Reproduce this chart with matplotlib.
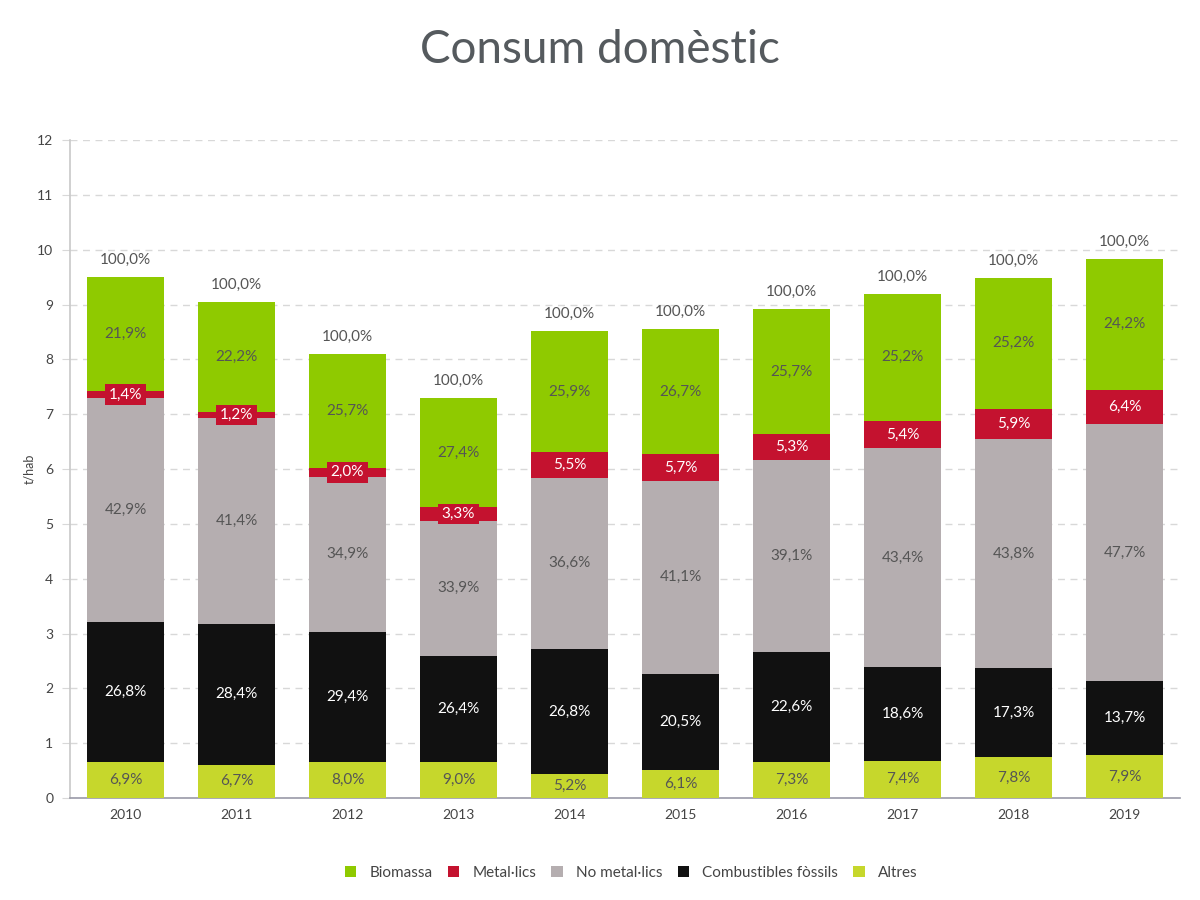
import matplotlib
matplotlib.use("Agg")
import matplotlib.pyplot as plt
import numpy as np

plt.rcParams['font.family'] = ['Lato', 'DejaVu Sans']

years = ['2010', '2011', '2012', '2013', '2014', '2015', '2016', '2017', '2018', '2019']

# values in t/hab
altres = [0.66, 0.61, 0.65, 0.66, 0.44, 0.52, 0.65, 0.68, 0.74, 0.78]
fossils = [2.55, 2.57, 2.38, 1.93, 2.28, 1.75, 2.02, 1.71, 1.64, 1.35]
no_metallics = [4.08, 3.75, 2.83, 2.47, 3.12, 3.51, 3.49, 3.99, 4.16, 4.69]
metallics = [0.13, 0.11, 0.16, 0.24, 0.47, 0.49, 0.47, 0.50, 0.56, 0.63]
biomassa = [2.08, 2.01, 2.08, 2.00, 2.21, 2.28, 2.29, 2.32, 2.39, 2.38]

# percentage labels
altres_lbl = ['6,9%', '6,7%', '8,0%', '9,0%', '5,2%', '6,1%', '7,3%', '7,4%', '7,8%', '7,9%']
fossils_lbl = ['26,8%', '28,4%', '29,4%', '26,4%', '26,8%', '20,5%', '22,6%', '18,6%', '17,3%', '13,7%']
no_met_lbl = ['42,9%', '41,4%', '34,9%', '33,9%', '36,6%', '41,1%', '39,1%', '43,4%', '43,8%', '47,7%']
met_lbl = ['1,4%', '1,2%', '2,0%', '3,3%', '5,5%', '5,7%', '5,3%', '5,4%', '5,9%', '6,4%']
bio_lbl = ['21,9%', '22,2%', '25,7%', '27,4%', '25,9%', '26,7%', '25,7%', '25,2%', '25,2%', '24,2%']
total_lbl = ['100,0%'] * 10

series = [
    ('Altres', altres, altres_lbl, '#c6d72c', '#555555', False),
    ('Combustibles fòssils', fossils, fossils_lbl, '#111111', 'white', False),
    ('No metal·lics', no_metallics, no_met_lbl, '#b5aeb0', '#555555', False),
    ('Metal·lics', metallics, met_lbl, '#c4122f', 'white', True),
    ('Biomassa', biomassa, bio_lbl, '#8fca00', '#555555', False),
]

fig = plt.figure(figsize=(12, 9), dpi=100)
ax = fig.add_axes([0.0583, 0.1133, 0.925, 0.7311])

x = np.arange(len(years))
bottom = np.zeros(len(years))
handles = {}
for name, vals, lbls, col, tcol, boxed in series:
    vals = np.array(vals)
    bars = ax.bar(x, vals, 0.70, bottom=bottom, color=col, zorder=3, label=name)
    handles[name] = bars
    for xi, b, v, l in zip(x, bottom, vals, lbls):
        kw = {}
        if boxed:
            kw['bbox'] = dict(boxstyle='square,pad=0.22', fc=col, ec='none')
        ax.text(xi, b + v / 2, l, ha='center', va='center', color=tcol,
                fontsize=11, zorder=5, **kw)
    bottom = bottom + vals

for xi, t, l in zip(x, bottom, total_lbl):
    ax.text(xi, t + 0.18, l, ha='center', va='bottom', color='#555555', fontsize=11, zorder=5)

ax.set_xlim(-0.5, len(years) - 0.5)
ax.set_ylim(0, 12)
ax.set_yticks(range(0, 13))
ax.set_xticks(x)
ax.set_xticklabels(years)
ax.grid(axis='y', color='#d8d8d8', linestyle=(0, (5, 4)), linewidth=1, zorder=0)
ax.set_axisbelow(True)
for s in ['top', 'right']:
    ax.spines[s].set_visible(False)
ax.spines['left'].set_color('#c8c8c8')
ax.spines['left'].set_linewidth(1.2)
ax.spines['bottom'].set_color('#9a9aa8')
ax.spines['bottom'].set_linewidth(1.2)
ax.tick_params(axis='y', length=6, color='#d8d8d8', labelsize=10, labelcolor='#444444', pad=6)
ax.tick_params(axis='x', length=0, labelsize=10, labelcolor='#444444', pad=8)
ax.set_ylabel('t/hab', fontsize=9, color='#444444', labelpad=1)

fig.text(0.5, 0.930, 'Consum domèstic', ha='center', va='baseline', fontsize=33, color='#555a5e')

order = ['Biomassa', 'Metal·lics', 'No metal·lics', 'Combustibles fòssils', 'Altres']
leg = fig.legend([handles[n] for n in order], order, loc='center', bbox_to_anchor=(0.526, 0.03),
                 ncol=5, frameon=False, fontsize=11, handlelength=0.75, handleheight=0.75,
                 handletextpad=0.85, columnspacing=1.0)
for t in leg.get_texts():
    t.set_color('#444444')

fig.savefig('out.png', dpi=100)
